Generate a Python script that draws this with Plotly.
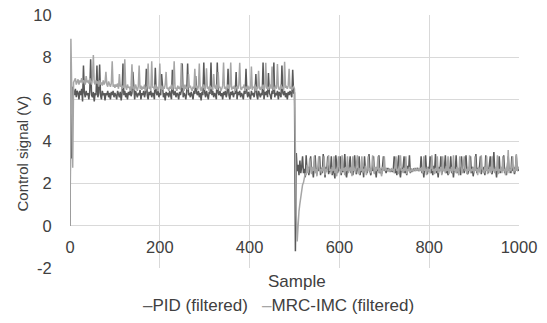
import plotly.graph_objects as go

# Sample index (every second sample, 0..1000)
samples = list(range(0, 1001, 2))

pid_values = [
    0.0, 6.5, 3.2, 6.6, 6.4, 6.2, 6.5, 6.1, 6.4, 6.3,
    6.0, 6.4, 6.2, 6.5, 5.9, 7.6, 6.3, 6.1, 6.4, 6.2,
    6.3, 6.0, 6.4, 7.9, 6.2, 6.1, 6.35, 5.9, 6.3, 6.2,
    7.6, 6.1, 6.3, 7.65, 6.2, 6.0, 6.4, 6.2, 6.3, 5.95,
    6.3, 6.2, 6.4, 6.1, 6.3, 6.0, 6.35, 6.2, 6.4, 6.1,
    6.3, 6.2, 6.0, 6.4, 6.25, 6.1, 6.35, 5.95, 6.3, 7.7,
    6.2, 6.4, 6.1, 6.3, 6.0, 6.35, 6.2, 6.4, 6.15, 6.3,
    7.3, 6.2, 6.0, 6.4, 6.25, 6.1, 6.3, 6.2, 6.45, 6.0,
    6.3, 6.2, 6.4, 6.1, 6.3, 7.45, 6.2, 6.0, 6.35, 6.2,
    6.4, 6.1, 6.3, 6.25, 6.0, 7.5, 6.3, 6.2, 6.4, 6.1,
    6.3, 6.2, 7.2, 6.4, 6.1, 6.3, 5.95, 6.35, 6.2, 6.3,
    6.1, 6.4, 6.2, 6.0, 7.4, 6.3, 6.2, 6.4, 6.1, 6.3,
    6.25, 6.0, 6.35, 6.2, 6.4, 7.7, 6.1, 6.3, 6.2, 6.0,
    6.4, 7.7, 6.2, 6.3, 6.1, 6.35, 6.2, 6.0, 6.4, 6.25,
    7.1, 6.3, 6.2, 6.4, 6.1, 6.3, 5.95, 6.35, 6.2, 7.75,
    6.3, 6.1, 6.4, 6.2, 6.0, 6.35, 6.25, 7.75, 6.2, 6.4,
    6.1, 6.3, 6.2, 6.0, 7.75, 6.3, 6.2, 6.4, 6.15, 6.3,
    6.0, 6.35, 6.2, 6.4, 6.1, 6.3, 7.45, 6.2, 6.0, 6.35,
    6.2, 6.4, 6.1, 6.3, 6.25, 7.3, 6.0, 6.35, 6.2, 6.4,
    6.1, 6.3, 6.2, 6.0, 6.4, 6.25, 7.45, 6.3, 6.1, 6.35,
    6.2, 6.0, 6.4, 6.2, 6.3, 6.1, 6.35, 7.2, 6.2, 6.0,
    6.4, 6.25, 6.1, 6.3, 6.2, 7.75, 6.0, 6.35, 6.2, 6.4,
    6.1, 7.25, 6.3, 6.2, 6.0, 6.4, 6.25, 7.75, 6.1, 6.3,
    6.2, 6.4, 6.0, 6.35, 6.2, 6.1, 7.6, 6.3, 6.2, 6.4,
    6.1, 6.3, 6.0, 6.35, 6.2, 6.4, 6.25, 6.1, 7.4, 6.3,
    6.3, -1.2, 3.45, 2.6, 2.9, 2.4, 3.1, 2.5, 2.8, 3.3,
    2.5, 2.7, 2.3, 3.35, 2.6, 2.8, 2.4, 2.9, 3.3, 2.5,
    2.7, 2.3, 2.85, 3.35, 2.6, 2.45, 2.8, 2.6, 3.3, 2.4,
    2.75, 2.5, 3.4, 2.6, 2.3, 2.8, 2.65, 3.3, 2.45, 2.7,
    2.55, 3.3, 2.4, 2.8, 2.6, 2.25, 3.35, 2.7, 2.5, 2.8,
    2.6, 3.3, 2.4, 2.75, 2.55, 2.8, 3.4, 2.5, 2.3, 2.7,
    2.6, 2.85, 3.3, 2.5, 2.7, 2.4, 2.8, 3.35, 2.6, 2.45,
    2.75, 2.6, 3.3, 2.4, 2.7, 2.55, 2.8, 2.3, 3.3, 2.6,
    2.7, 2.5, 2.85, 3.4, 2.6, 2.4, 2.75, 2.6, 3.3, 2.5,
    2.7, 2.3, 2.8, 2.6, 3.35, 2.5, 2.7, 2.45, 2.8, 3.3,
    2.6, 2.7, 2.5, 2.75, 2.6, 2.7, 2.65, 2.6, 2.7, 2.55,
    2.65, 3.3, 2.5, 2.7, 2.4, 2.8, 3.35, 2.6, 2.3, 2.75,
    2.6, 2.8, 3.3, 2.5, 2.7, 2.4, 2.85, 2.6, 3.35, 2.5,
    2.7, 2.6, 2.65, 2.7, 2.6, 2.7, 2.65, 2.75, 2.6, 2.7,
    2.6, 3.3, 2.5, 2.75, 2.3, 2.8, 3.35, 2.6, 2.45, 2.8,
    2.6, 3.3, 2.5, 2.7, 2.4, 2.85, 2.6, 3.4, 2.5, 2.7,
    2.3, 2.8, 2.6, 3.3, 2.45, 2.7, 2.6, 2.8, 3.35, 2.5,
    2.7, 2.4, 2.8, 2.6, 3.3, 2.5, 2.75, 2.3, 2.8, 2.6,
    3.35, 2.5, 2.7, 2.6, 2.8, 2.4, 3.3, 2.6, 2.7, 2.5,
    2.8, 3.35, 2.6, 2.45, 2.7, 2.6, 3.3, 2.5, 2.8, 2.35,
    2.7, 2.6, 3.4, 2.5, 2.75, 2.6, 2.8, 3.3, 2.45, 2.7,
    2.6, 2.8, 2.4, 3.35, 2.6, 2.7, 2.5, 2.8, 3.3, 2.6,
    2.45, 2.75, 3.5, 2.6, 2.7, 2.3, 2.8, 2.6, 3.3, 2.5,
    2.7, 2.6, 2.85, 3.35, 2.5, 2.7, 2.4, 2.8, 3.3, 2.6,
    2.7, 2.5, 3.3, 2.6, 2.8, 2.45, 2.7, 3.35, 2.6, 2.75,
    2.6,
]

mrc_values = [
    0.0, 8.87, 6.3, 2.75, 6.8, 6.9, 7.0, 6.7, 6.85, 6.95,
    6.7, 6.9, 6.8, 7.0, 6.75, 6.9, 6.85, 6.7, 7.1, 6.8,
    6.9, 6.75, 7.0, 6.8, 6.7, 6.95, 8.1, 6.8, 6.7, 6.9,
    6.75, 6.85, 6.6, 6.9, 6.7, 6.8, 6.65, 6.9, 6.7, 6.8,
    7.3, 6.7, 6.6, 6.85, 6.7, 6.6, 6.75, 7.8, 6.6, 6.7,
    6.55, 6.7, 6.6, 6.75, 6.5, 7.2, 6.6, 6.7, 6.5, 6.65,
    6.55, 7.9, 6.6, 6.45, 6.7, 6.55, 6.6, 6.4, 6.65, 7.66,
    6.5, 6.6, 6.45, 6.7, 6.55, 6.4, 6.6, 7.6, 6.5, 6.65,
    6.45, 6.6, 6.5, 6.7, 6.4, 6.55, 6.65, 7.7, 6.5, 6.6,
    6.4, 7.8, 6.55, 6.6, 6.45, 6.7, 6.5, 6.6, 6.4, 6.55,
    7.7, 6.5, 6.65, 6.45, 6.6, 6.5, 6.7, 7.3, 6.5, 6.55,
    6.4, 6.6, 6.5, 6.7, 6.45, 6.6, 7.8, 6.5, 6.55, 6.4,
    6.65, 6.5, 6.6, 6.45, 7.72, 6.55, 6.6, 6.4, 6.7, 6.5,
    6.6, 6.45, 7.2, 6.55, 6.65, 6.5, 6.4, 6.6, 6.5, 7.45,
    6.55, 6.65, 6.45, 6.6, 7.7, 6.5, 6.4, 6.6, 6.55, 6.7,
    6.45, 6.6, 7.47, 6.5, 6.6, 6.4, 6.65, 6.5, 6.55, 6.45,
    7.2, 6.6, 6.5, 6.7, 6.45, 7.3, 6.55, 6.6, 6.4, 6.5,
    6.65, 7.75, 6.5, 6.6, 6.45, 6.55, 6.7, 6.5, 6.6, 7.75,
    6.45, 6.6, 6.5, 6.65, 6.4, 6.55, 6.6, 6.5, 6.7, 7.73,
    6.5, 6.45, 6.6, 6.55, 6.7, 6.4, 6.6, 6.5, 6.65, 6.45,
    6.6, 6.5, 7.55, 6.45, 6.6, 6.55, 6.7, 6.4, 6.6, 6.5,
    7.35, 6.55, 6.45, 6.6, 6.5, 6.7, 6.45, 6.6, 7.73, 6.5,
    6.6, 6.45, 6.55, 6.7, 6.5, 7.55, 6.6, 6.45, 6.55, 6.65,
    6.5, 7.68, 6.6, 6.45, 6.55, 6.7, 6.5, 6.6, 6.45, 7.78,
    6.55, 6.6, 6.5, 6.65, 7.45, 6.5, 6.6, 6.45, 6.55, 6.6,
    6.5, 2.6, 0.5, -0.74, 0.2, 0.7, 1.05, 1.4, 1.7, 1.95,
    2.05, 2.3, 2.5, 2.4, 2.9, 2.5, 2.7, 3.2, 2.6, 2.45,
    2.8, 2.6, 3.3, 2.5, 2.7, 2.35, 2.85, 3.3, 2.6, 2.7,
    2.5, 2.8, 2.6, 3.3, 2.4, 2.7, 2.55, 2.85, 3.35, 2.6,
    2.7, 2.45, 2.8, 2.6, 3.3, 2.5, 2.7, 2.35, 2.8, 3.3,
    2.6, 2.7, 2.5, 3.35, 2.6, 2.75, 2.4, 2.8, 2.6, 3.3,
    2.5, 2.7, 2.6, 2.8, 2.35, 3.3, 2.6, 2.7, 2.5, 2.8,
    3.35, 2.6, 2.45, 2.75, 2.6, 3.3, 2.5, 2.7, 2.6, 2.85,
    2.4, 2.7, 3.3, 2.6, 2.75, 2.5, 2.7, 3.35, 2.6, 2.45,
    2.8, 2.6, 2.7, 3.3, 2.5, 2.75, 2.6, 2.35, 2.8, 2.6,
    3.3, 2.6, 2.7, 2.65, 2.6, 2.7, 2.55, 2.65, 2.7, 2.6,
    2.7, 2.5, 2.8, 3.3, 2.6, 2.7, 2.45, 2.8, 3.35, 2.6,
    2.7, 2.5, 2.75, 2.6, 3.3, 2.45, 2.7, 2.6, 2.8, 2.55,
    2.65, 2.7, 2.6, 2.65, 2.7, 2.6, 2.7, 2.65, 2.7, 2.6,
    2.75, 2.6, 2.8, 2.5, 3.3, 2.6, 2.7, 2.4, 2.8, 2.6,
    2.7, 2.5, 2.8, 3.35, 2.6, 2.7, 2.45, 2.75, 2.6, 3.3,
    2.5, 2.7, 2.6, 2.8, 2.4, 3.3, 2.6, 2.7, 2.5, 2.85,
    2.6, 3.3, 2.45, 2.7, 2.6, 2.8, 2.5, 3.35, 2.6, 2.7,
    2.5, 2.8, 2.6, 2.4, 3.3, 2.7, 2.6, 2.5, 2.8, 3.3,
    2.6, 2.7, 2.45, 2.8, 2.6, 3.35, 2.5, 2.7, 2.6, 2.8,
    2.5, 3.3, 2.6, 2.7, 2.4, 2.8, 2.6, 2.5, 3.35, 2.7,
    2.6, 2.5, 2.8, 2.6, 3.3, 2.45, 2.7, 2.6, 2.8, 2.5,
    3.3, 2.6, 2.7, 2.5, 2.8, 2.6, 3.35, 2.45, 2.7, 2.6,
    2.8, 2.5, 3.3, 2.6, 2.7, 2.4, 2.8, 2.6, 3.6, 2.5,
    2.7, 2.6, 2.8, 3.3, 2.5, 2.7, 2.6, 3.4, 2.6, 2.8,
    2.7,
]

x_ticks = [0, 200, 400, 600, 800, 1000]
y_ticks = [-2, 0, 2, 4, 6, 8, 10]
y_tick_labels = ["-2", "0", "2", "4", "6", "8", "10"]

series_names = ["PID (filtered)", "MRC-IMC (filtered)"]
series_colors = ["#595959", "#A6A6A6"]

FONT = "Liberation Sans, Arial, sans-serif"
TXT = "#404040"
GRID = "#D9D9D9"
FS_TICK = 16.5
FS_TXT = 17

fig = go.Figure()
for name, vals, col in zip(series_names, [pid_values, mrc_values], series_colors):
    fig.add_trace(go.Scatter(x=samples, y=vals, mode="lines", name=name,
                             line=dict(color=col, width=1.5)))

# legend drawn as text entries with a short coloured dash (Excel style)
legend_text = "   ".join(
    f"<span style='color:{c}'>–</span>{n}" for n, c in zip(series_names, series_colors)
)

fig.update_layout(
    width=547, height=323,
    margin=dict(l=70, r=28, t=15, b=55, autoexpand=False),
    paper_bgcolor="white", plot_bgcolor="white",
    font=dict(family=FONT, size=FS_TICK, color=TXT),
    showlegend=False,
    xaxis=dict(range=[0, 1000], tickvals=x_ticks, showgrid=True, gridcolor=GRID,
               gridwidth=1, zeroline=False, showline=False,
               anchor="free", position=1/6,
               ticks="outside", ticklen=6, tickcolor="rgba(0,0,0,0)",
               tickfont=dict(size=FS_TICK, color=TXT)),
    yaxis=dict(range=[-2, 10], tickvals=y_ticks, ticktext=y_tick_labels,
               showgrid=True, gridcolor=GRID,
               gridwidth=1, zeroline=False, showline=False,
               ticks="outside", ticklen=14, tickcolor="rgba(0,0,0,0)",
               tickfont=dict(size=FS_TICK, color=TXT)),
    annotations=[
        dict(text="Sample", xref="paper", yref="paper", x=0.505, y=-0.054,
             xanchor="center", yanchor="middle", showarrow=False,
             font=dict(size=FS_TXT, color=TXT)),
        dict(text="Control signal (V)", xref="paper", yref="paper", x=-0.106, y=0.454,
             xanchor="center", yanchor="middle", showarrow=False, textangle=-90,
             font=dict(size=15, color=TXT)),
        dict(text=legend_text, xref="paper", yref="paper", x=0.465, y=-0.149,
             xanchor="center", yanchor="middle", showarrow=False,
             font=dict(size=FS_TXT, color=TXT)),
    ],
)

fig.write_html("out.html", config={"displayModeBar": False},
               post_script="document.body.style.margin='0';")
